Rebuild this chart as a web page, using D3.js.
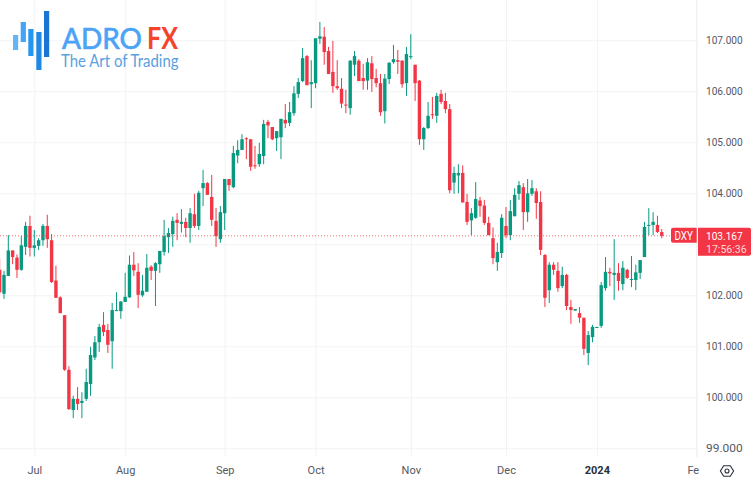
<!DOCTYPE html>
<html>
<head>
<meta charset="utf-8">
<script src="https://cdn.jsdelivr.net/npm/d3@7"></script>
<style>
html,body{margin:0;padding:0;background:#fff;overflow:hidden}
svg{display:block}
.lab{font-family:"Roboto",sans-serif;font-size:11.5px;fill:#555864}
</style>
</head>
<body>
<svg id="c" width="755" height="485"></svg>
<script>
const opens = [102.50,102.03,102.38,102.88,102.74,102.50,102.95,103.36,102.93,102.97,
103.08,103.36,103.08,102.29,101.96,101.61,100.54,99.75,99.97,99.89,
99.97,100.26,100.78,101.08,101.42,101.32,101.10,101.70,101.69,101.87,
101.96,102.60,102.46,102.00,102.07,102.56,102.48,102.61,102.85,103.14,
103.20,103.48,103.40,103.44,103.32,103.59,103.36,104.10,104.20,103.93,
103.46,103.10,103.61,104.28,104.12,104.74,104.85,105.08,105.06,104.55,
104.57,104.73,105.40,105.30,105.08,105.10,105.44,105.38,105.57,105.95,
106.20,106.69,106.14,106.16,107.03,107.07,106.79,106.38,106.10,106.05,
105.74,105.67,106.52,106.60,106.26,106.21,106.55,106.26,106.16,105.61,
106.24,106.57,106.61,106.60,106.16,106.67,106.52,106.21,105.06,105.28,
105.55,105.52,105.95,105.81,105.65,104.21,104.35,104.40,103.83,103.47,
103.52,103.86,103.76,103.42,103.12,102.65,102.83,103.36,103.18,103.55,
103.99,104.12,103.63,103.99,104.04,103.83,102.79,102.10,102.60,102.48,
102.18,102.40,101.77,101.70,101.65,101.56,100.87,101.18,101.37,101.40,
102.14,102.46,102.40,102.44,102.22,102.50,102.30,102.30,102.44,102.75,
103.37,103.38,103.38,103.24];
const highs = [102.71,102.48,103.18,102.88,102.80,103.16,103.44,103.56,103.28,103.12,
103.40,103.58,103.20,102.58,101.98,101.61,100.61,100.03,100.20,100.10,
100.56,100.99,101.20,101.44,101.67,101.44,101.85,102.06,101.88,102.44,
102.78,102.85,102.63,102.40,102.81,102.59,102.65,102.87,103.48,103.32,
103.54,103.61,103.69,103.52,103.71,103.99,104.05,104.46,104.22,104.36,
103.71,103.75,104.28,104.28,104.93,105.04,105.16,105.10,105.06,104.93,
104.99,105.44,105.44,105.30,105.22,105.46,105.75,105.79,106.10,106.26,
106.85,106.71,106.61,107.04,107.36,107.26,106.87,106.99,106.61,106.26,
106.03,106.61,106.79,106.63,106.54,106.65,106.69,106.44,106.34,106.34,
106.57,106.91,106.81,106.61,106.87,107.12,106.52,106.22,105.30,105.79,
105.89,105.97,106.03,105.97,105.75,104.52,104.57,104.55,103.99,103.71,
104.22,103.93,103.87,103.54,103.33,103.03,103.59,103.73,103.87,104.10,
104.24,104.20,104.28,104.26,104.10,104.04,102.81,102.65,102.65,102.65,
102.56,102.42,101.91,101.73,101.77,101.56,101.30,101.42,101.38,102.26,
102.75,102.54,103.10,102.63,102.67,102.52,102.77,102.60,102.69,103.44,
103.71,103.63,103.56,103.30];
const lows = [102.02,101.93,102.38,102.61,102.34,102.48,102.79,102.76,102.76,102.89,
102.97,102.93,102.24,101.95,101.65,100.52,99.75,99.59,99.75,99.59,
99.93,100.03,100.73,100.89,101.20,100.87,100.56,101.69,101.54,101.87,
101.95,102.38,101.75,101.97,102.07,102.30,101.79,102.44,102.78,102.83,
102.95,103.08,103.23,103.14,103.03,103.32,103.28,103.75,103.97,103.36,
102.95,103.03,103.28,104.05,104.10,104.59,104.85,104.67,104.44,104.48,
104.52,104.57,105.08,105.04,104.83,104.67,105.28,105.32,105.52,105.87,
106.18,106.12,105.67,106.06,106.93,106.52,106.34,105.97,106.03,105.67,
105.57,105.54,106.30,106.20,106.03,106.03,105.99,106.08,105.52,105.37,
106.14,106.54,106.34,106.07,105.91,106.63,105.81,104.95,104.85,105.26,
105.46,105.38,105.75,105.57,104.00,103.99,104.00,103.82,103.38,103.18,
103.50,103.54,103.38,103.18,102.61,102.48,102.73,103.12,103.08,103.55,
103.87,103.28,103.44,103.95,103.50,102.79,101.77,101.85,102.40,102.07,
102.14,101.71,101.44,101.70,101.46,100.83,100.63,101.08,101.36,101.36,
102.09,102.18,101.91,102.09,102.10,102.32,102.16,102.10,102.32,102.75,
103.18,103.18,103.22,103.12];
const closes = [102.06,102.40,102.88,102.75,102.50,102.98,103.36,102.93,102.98,103.08,
103.36,103.10,102.26,101.95,101.65,100.54,99.77,99.97,99.87,99.93,
100.30,100.83,101.08,101.38,101.28,101.03,101.71,101.71,101.88,101.97,
102.60,102.49,102.01,102.09,102.54,102.48,102.63,102.87,103.16,103.22,
103.46,103.42,103.44,103.32,103.61,103.36,104.01,104.20,103.97,103.48,
103.16,103.63,104.28,104.16,104.79,104.85,105.06,105.06,104.52,104.53,
104.77,105.36,105.33,105.06,105.22,105.46,105.37,105.59,105.96,106.18,
106.65,106.12,106.18,107.04,107.08,106.77,106.34,106.10,106.06,105.76,
105.73,106.60,106.69,106.20,106.20,106.57,106.24,106.16,105.59,106.25,
106.56,106.63,106.58,106.14,106.73,106.69,106.16,105.06,105.28,105.52,
105.54,105.91,105.79,105.65,104.06,104.40,104.40,103.82,103.44,103.61,
103.89,103.75,103.42,103.18,102.73,102.85,103.52,103.18,103.65,103.97,
104.16,103.63,104.00,104.10,103.81,102.89,101.95,102.60,102.50,102.14,
102.40,101.79,101.71,101.73,101.56,100.95,101.22,101.38,101.38,102.20,
102.46,102.43,102.44,102.28,102.54,102.34,102.32,102.45,102.69,103.34,
103.38,103.44,103.24,103.167];
const gridPrices = [99,100,101,102,103,104,105,106,107];
const priceLabels = [99,100,101,102,104,105,106,107];
const monthBars = [8,29,52,73,95,117,138,161];
const monthLabels = ["Jul","Aug","Sep","Oct","Nov","Dec","2024","Fe"];
const symbol = "DXY";
const lastPrice = 103.167;
const countdown = "17:56:36";
const logoHeights = [[35,50],[22,42],[29,56],[32,70],[11,57]];

const UP = "#089981", DOWN = "#f23645";
const plotR = 696.7, plotB = 457;
const svg = d3.select("#c");
const x = d3.scaleLinear().domain([0,161]).range([-0.33,696.4]);
const y = d3.scaleLinear().domain([99,107]).range([448.3,40.3]);

svg.append("defs").append("clipPath").attr("id","plot")
  .append("rect").attr("width",plotR).attr("height",plotB);

// grid
const gridY = svg.append("g").call(d3.axisRight(y).tickValues(gridPrices).tickSize(698).tickFormat(""));
gridY.select(".domain").remove();
gridY.selectAll("line").attr("stroke","#f1f3f6");
const gridX = svg.append("g").call(d3.axisBottom(x).tickValues(monthBars).tickSize(plotB).tickFormat(""));
gridX.select(".domain").remove();
gridX.selectAll("line").attr("stroke","#f1f3f6");

// right axis border
svg.append("line").attr("x1",plotR).attr("x2",plotR).attr("y1",0).attr("y2",plotB).attr("stroke","#eef0f4");

// logo
const lc = ["#64b5f6","#42a5f5","#2196f3","#1e88e5","#1976d2"];
const lx = [13,20.7,28.3,36.3,44];
svg.append("g").selectAll("rect").data(logoHeights).join("rect")
  .attr("x",(d,i)=>lx[i]).attr("y",d=>d[0]).attr("width",5.2).attr("height",d=>d[1]-d[0])
  .attr("fill",(d,i)=>lc[i]);
const logoFont='"Lato",sans-serif';
svg.append("text").attr("x",62).attr("y",49).attr("font-family",logoFont).attr("font-size",29.5)
  .attr("fill","#4ba3f6").attr("stroke","#4ba3f6").attr("stroke-width",0.7)
  .attr("textLength",80).attr("lengthAdjust","spacingAndGlyphs").text("ADRO");
svg.append("text").attr("x",147).attr("y",49).attr("font-family",logoFont).attr("font-size",29.5)
  .attr("font-weight",700).attr("fill","#f4442e").attr("textLength",31).attr("lengthAdjust","spacingAndGlyphs").text("FX");
svg.append("text").attr("x",61).attr("y",66.5).attr("font-family",logoFont).attr("font-size",16.5)
  .attr("fill","#5a9fe0").attr("textLength",117.5).attr("lengthAdjust","spacingAndGlyphs").text("The Art of Trading");

// candles
const bars = d3.range(closes.length).map(i=>({i,o:opens[i],h:highs[i],l:lows[i],c:closes[i]}));
const plot = svg.append("g").attr("clip-path","url(#plot)");
const col = d=>d.c>=d.o?UP:DOWN;
plot.selectAll(".w").data(bars).join("line").attr("class","w")
  .attr("x1",d=>x(d.i)).attr("x2",d=>x(d.i)).attr("y1",d=>y(d.h)).attr("y2",d=>y(d.l))
  .attr("stroke",col).attr("stroke-width",1);
plot.selectAll(".b").data(bars).join("rect").attr("class","b")
  .attr("x",d=>x(d.i)-1.7).attr("width",3.4)
  .attr("y",d=>y(Math.max(d.o,d.c))).attr("height",d=>Math.max(1,Math.abs(y(d.o)-y(d.c))))
  .attr("fill",col);

// last price line
plot.append("line").attr("x1",0).attr("x2",plotR).attr("y1",y(lastPrice)).attr("y2",y(lastPrice))
  .attr("stroke",DOWN).attr("stroke-width",1).attr("stroke-dasharray","1 2").attr("stroke-opacity",.75);

// price axis
const axY = svg.append("g").attr("transform","translate(706,0)")
  .call(d3.axisRight(y).tickValues(priceLabels).tickSize(0).tickPadding(0).tickFormat(d3.format(".3f")));
axY.select(".domain").remove();
axY.selectAll("text").attr("class","lab").attr("x",0).attr("textLength",36.7).attr("lengthAdjust","spacingAndGlyphs");

// time axis
const axX = svg.append("g").attr("transform","translate(0,466)")
  .call(d3.axisBottom(x).tickValues(monthBars).tickSize(0).tickPadding(0).tickFormat((d,i)=>monthLabels[i]));
axX.select(".domain").remove();
axX.selectAll("text").attr("class","lab").attr("y",0).attr("dy","0.71em")
  .style("font-size","11px")
  .style("font-weight",(d,i)=>monthLabels[i]==="2024"?"700":"400")
  .style("fill",(d,i)=>monthLabels[i]==="2024"?"#2a2e39":"#555864")
  .attr("x",(d,i)=>monthLabels[i]==="Fe"?-3.6:0);

// price labels
const ly = y(lastPrice);
svg.append("path").attr("fill",DOWN)
  .attr("d",`M${plotR},${ly-8}H673a2,2 0 0 0 -2,2V${ly+5}a2,2 0 0 0 2,2H${plotR}Z`);
svg.append("text").attr("x",674.5).attr("y",ly+0.2).attr("dy","0.35em")
  .attr("fill","#fff").attr("font-family","Roboto,sans-serif").attr("font-size",12).attr("textLength",18.5).attr("lengthAdjust","spacingAndGlyphs").text(symbol);
svg.append("path").attr("fill",DOWN)
  .attr("d",`M698,${ly-8}H749a2,2 0 0 1 2,2V${ly+18}a2,2 0 0 1 -2,2H698Z`);
svg.append("text").attr("x",706).attr("y",ly+0.2).attr("dy","0.35em").attr("fill","#fff")
  .attr("font-family","Roboto,sans-serif").attr("font-size",11.5).attr("textLength",36.7).attr("lengthAdjust","spacingAndGlyphs").text(d3.format(".3f")(lastPrice));
svg.append("text").attr("x",706).attr("y",ly+13.4).attr("dy","0.35em").attr("fill","#fff").attr("fill-opacity",.8)
  .attr("font-family","Roboto,sans-serif").attr("font-size",11.5).attr("textLength",40.7).attr("lengthAdjust","spacingAndGlyphs").text(countdown);

// settings icon
const hex = d3.range(6).map(k=>[727+6.6*Math.cos(k*Math.PI/3),471+6*Math.sin(k*Math.PI/3)]);
svg.append("path").attr("d",d3.line().curve(d3.curveLinearClosed)(hex)).attr("fill","none").attr("stroke","#2a2e39").attr("stroke-width",1.1);
svg.append("circle").attr("cx",727).attr("cy",471).attr("r",2).attr("fill","none").attr("stroke","#2a2e39").attr("stroke-width",1.1);
</script>
</body>
</html>
